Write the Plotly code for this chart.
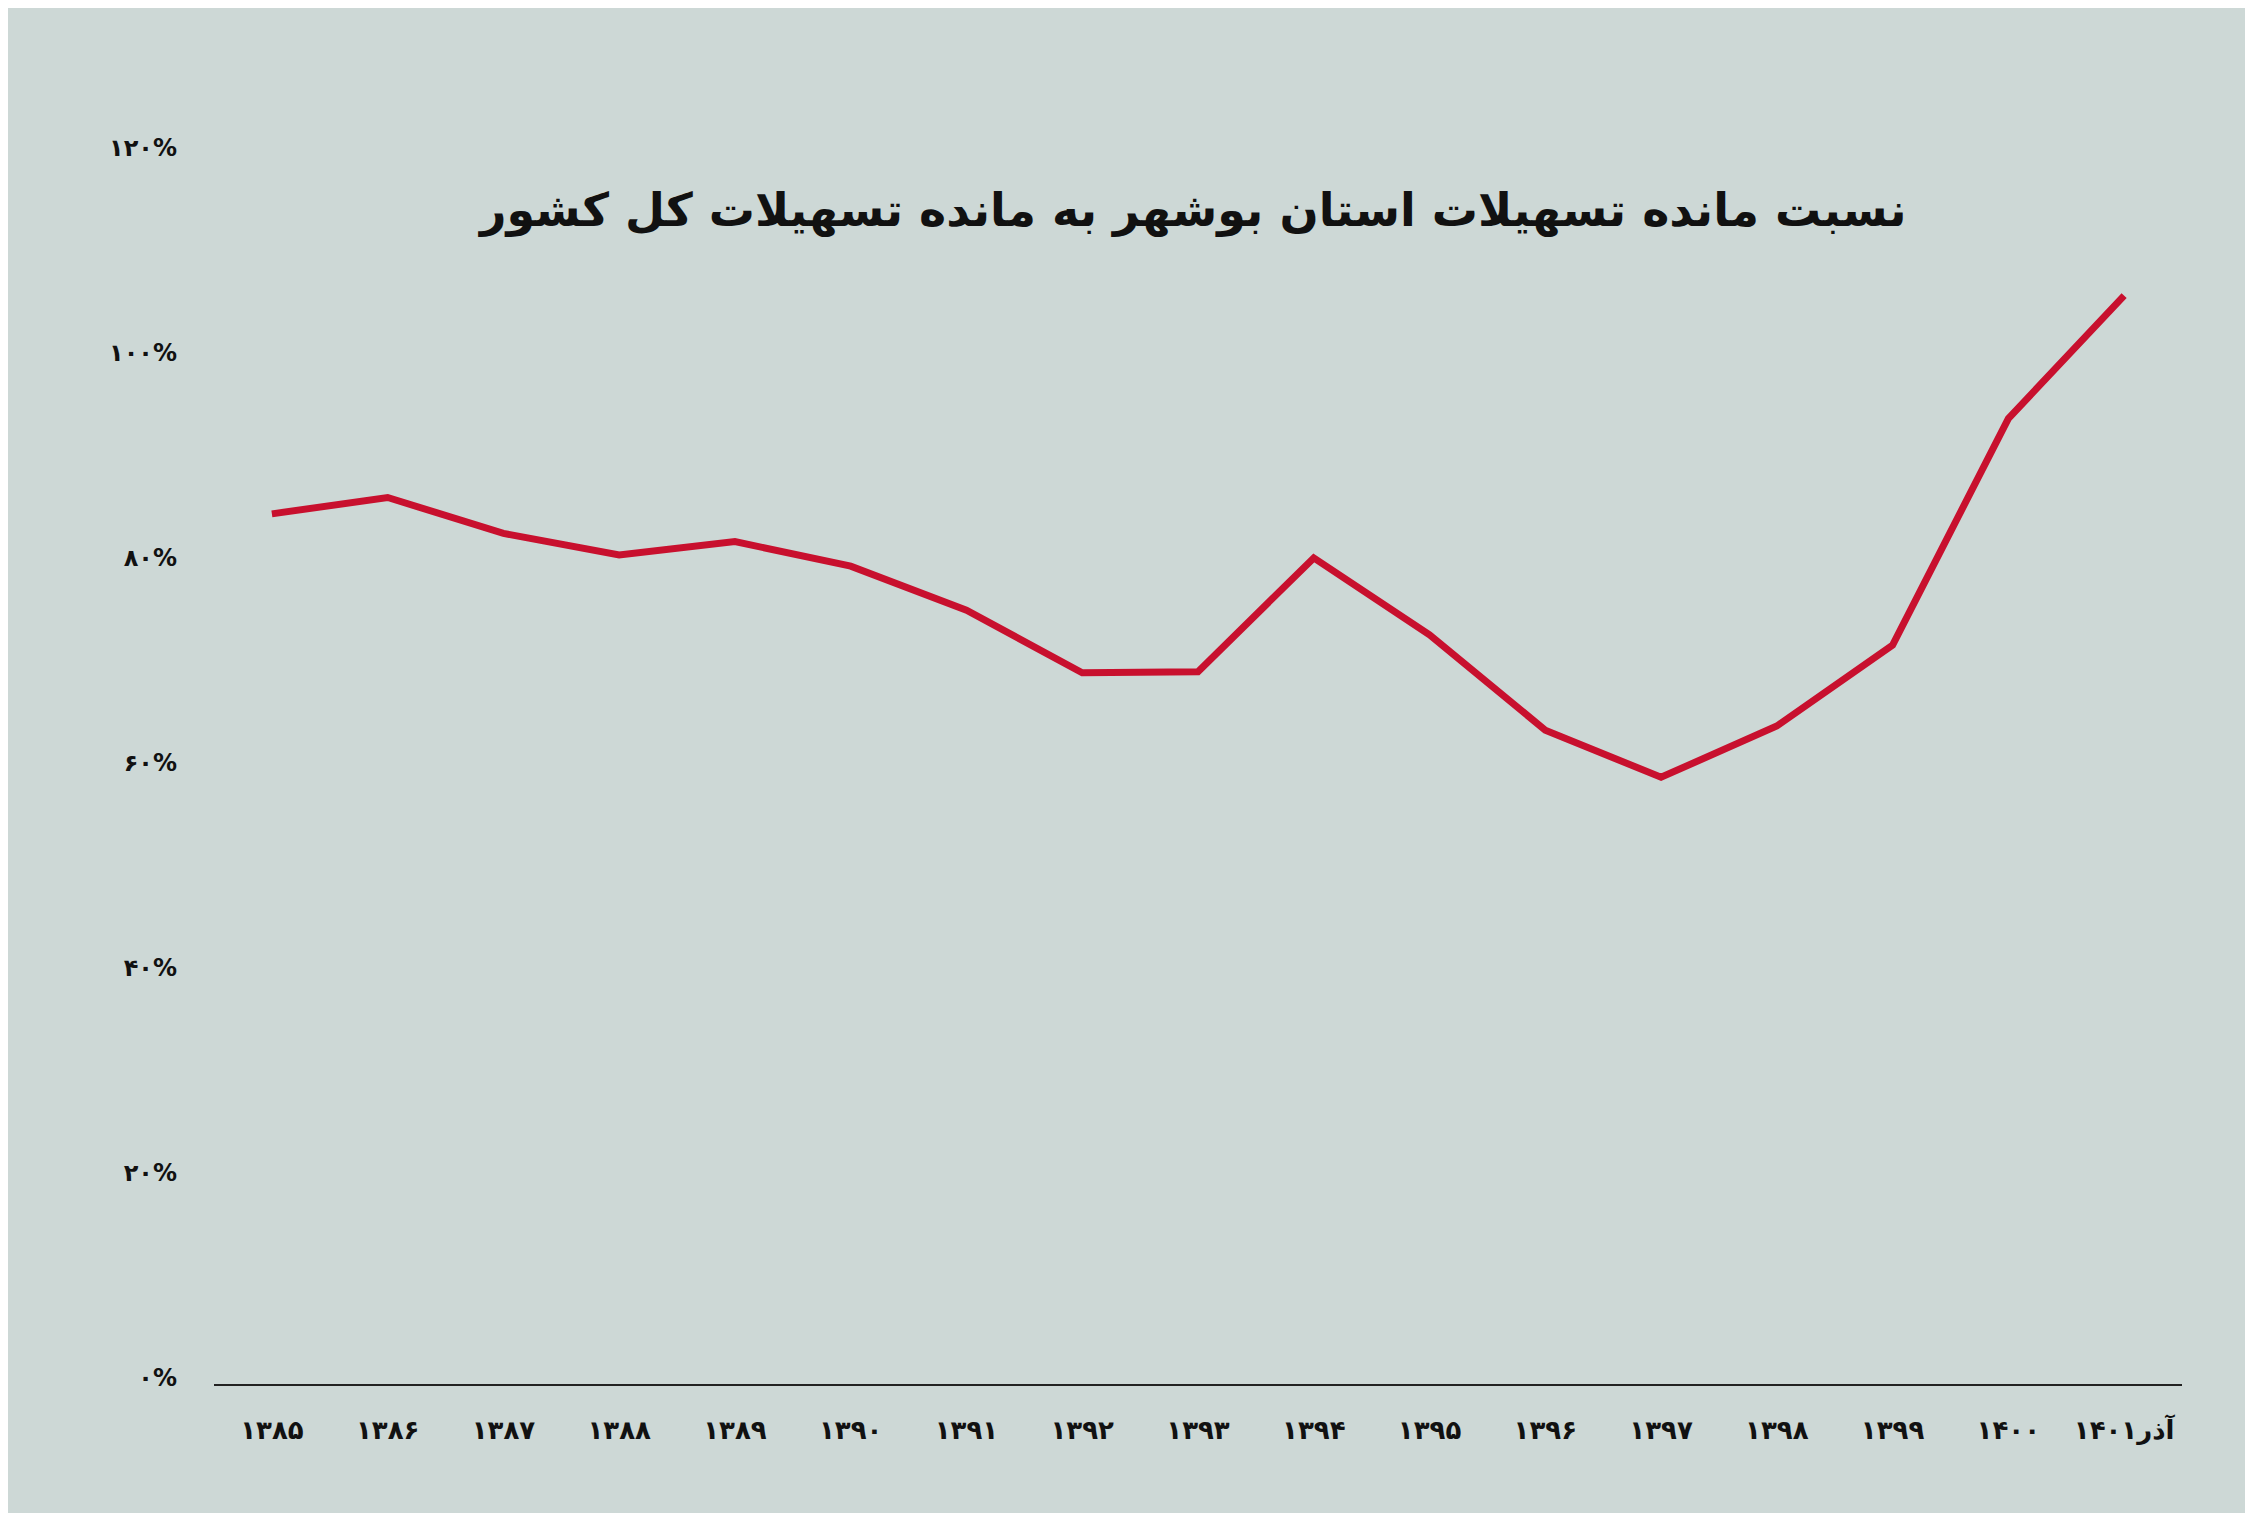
import plotly.graph_objects as go

years = ["۱۳۸۵", "۱۳۸۶", "۱۳۸۷", "۱۳۸۸", "۱۳۸۹", "۱۳۹۰", "۱۳۹۱", "۱۳۹۲", "۱۳۹۳",
         "۱۳۹۴", "۱۳۹۵", "۱۳۹۶", "۱۳۹۷", "۱۳۹۸", "۱۳۹۹", "۱۴۰۰", "آذر۱۴۰۱"]
ratio = [84.3, 85.9, 82.4, 80.3, 81.6, 79.2, 74.9, 68.8, 68.9,
         80.0, 72.5, 63.2, 58.6, 63.6, 71.5, 93.6, 105.6]
y_ticks = [0, 20, 40, 60, 80, 100, 120]
y_labels = ["۰%", "۲۰%", "۴۰%", "۶۰%", "۸۰%", "۱۰۰%", "۱۲۰%"]

bg = "#cdd8d6"
font = "DejaVu Sans"

fig = go.Figure(go.Scatter(
    x=list(range(len(years))), y=ratio, mode="lines",
    line=dict(color="#c8102e", width=7),
))

fig.update_layout(
    width=2253, height=1513,
    paper_bgcolor=bg, plot_bgcolor=bg,
    margin=dict(l=206, r=79, t=140, b=137),
    showlegend=False,
    font=dict(family=font, color="#111", size=21),
    xaxis=dict(
        range=[-0.5, 16.5], tickmode="array",
        tickvals=list(range(len(years))), ticktext=years,
        showgrid=False, zeroline=False, showline=True,
        linecolor="#222", linewidth=2, ticks="", ticklabelstandoff=22,
        tickfont=dict(size=26, family=font, color="#111", weight="bold"),
    ),
    yaxis=dict(
        range=[-0.6, 120], tickmode="array", tickvals=y_ticks, ticktext=y_labels,
        showgrid=False, zeroline=False, showline=False, ticks="",
        ticklabelstandoff=36,
        tickfont=dict(size=24, family=font, color="#111", weight="bold"),
    ),
    annotations=[dict(
        text="نسبت مانده تسهیلات استان بوشهر به مانده تسهیلات کل کشور",
        xref="paper", yref="paper", x=0.497, y=0.95,
        xanchor="center", yanchor="middle", showarrow=False,
        font=dict(size=46, family=font, color="#111", weight="bold"),
    )],
)

fig.write_html("out.html")
